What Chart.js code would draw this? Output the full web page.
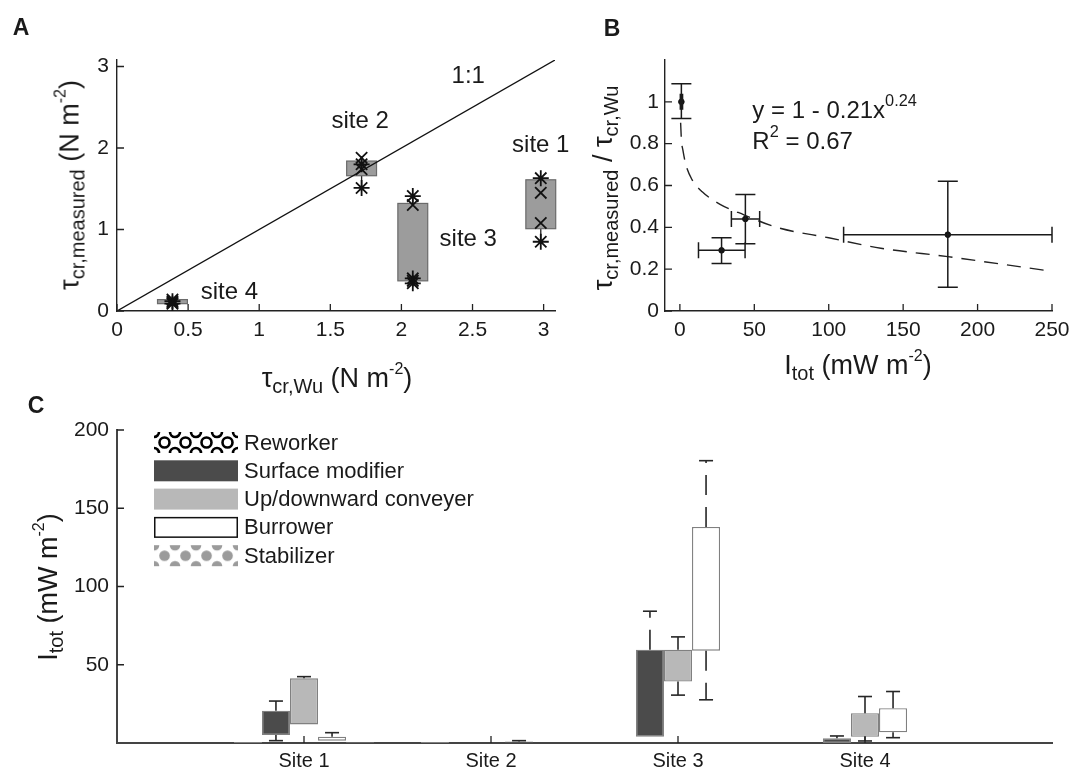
<!DOCTYPE html>
<html lang="en">
<head>
<meta charset="utf-8">
<title>Critical shear stress and bioturbation</title>
<script src="https://cdn.jsdelivr.net/npm/chart.js@4.4.1/dist/chart.umd.min.js"></script>
<style>
  html, body { margin: 0; padding: 0; background: #fff; }
  #fig { position: relative; width: 1072px; height: 772px; overflow: hidden;
         font-family: "Liberation Sans", Arial, sans-serif; color: #1a1a1a; }
  canvas { position: absolute; }
  .lbl { position: absolute; white-space: nowrap; font-size: 27px; line-height: 1; }
  .lbl sub { font-size: 20px; line-height: 0; vertical-align: -0.32em; }
  .lbl sup { font-size: 16px; line-height: 0; vertical-align: 0.8em; }
  .hz { transform: translate(-50%, -50%); }
  .rot { transform: translate(-50%, -50%) rotate(-90deg); }
  .letter { position: absolute; font-weight: bold; font-size: 23px; transform: translate(-50%, -50%); }
</style>
</head>
<body>
<div id="fig">
  <canvas id="chartA" width="600" height="400" style="left:0;top:0"></canvas>
  <canvas id="chartB" width="492" height="400" style="left:580px;top:0"></canvas>
  <canvas id="chartC" width="1072" height="372" style="left:0;top:400px"></canvas>

  <div class="letter" style="left:21px;top:27px">A</div>
  <div class="letter" style="left:612px;top:28px">B</div>
  <div class="letter" style="left:36px;top:405px">C</div>

  <div class="lbl hz" style="left:337px;top:378px">τ<sub>cr,Wu</sub> (N m<sup>-2</sup>)</div>
  <div class="lbl rot" style="left:70px;top:185px">τ<sub>cr,measured</sub> (N m<sup>-2</sup>)</div>
  <div class="lbl hz" style="left:858px;top:365px">I<sub>tot</sub> (mW m<sup>-2</sup>)</div>
  <div class="lbl rot" style="left:603px;top:188px">τ<sub>cr,measured</sub> / τ<sub>cr,Wu</sub></div>
  <div class="lbl rot" style="left:48px;top:587px">I<sub>tot</sub> (mW m<sup>-2</sup>)</div>
</div>

<script>
// ---------------- Panel A : measured vs Wu critical shear stress ----------------
const aXTicks = [0, 0.5, 1, 1.5, 2, 2.5, 3];
const aYTicks = [0, 1, 2, 3];
// sites 1..4
const aSiteX = [2.98, 1.72, 2.08, 0.39];
const aQ1 = [1.01, 1.66, 0.37, 0.09];
const aQ3 = [1.61, 1.84, 1.32, 0.14];
const aWhiskLo = [0.85, 1.51, 0.34, 0.09];
const aWhiskHi = [1.63, 1.88, 1.41, 0.14];
// individual measurements (site index, value, marker)
const aPtSite = [0, 0, 0, 0, 1, 1, 1, 1, 2, 2, 2, 2, 2, 3, 3, 3, 3];
const aPtY = [1.63, 1.45, 1.08, 0.85, 1.88, 1.80, 1.74, 1.51, 1.41, 1.30, 0.40, 0.37, 0.34, 0.14, 0.12, 0.10, 0.09];
const aPtMark = ['*', 'x', 'x', '*', 'x', '*', 'x', '*', '*', 'x', '*', 'x', '*', 'x', '*', 'x', '*'];
const oneToOne = [0, 3.08];
const aNoteText = ['1:1', 'site 1', 'site 2', 'site 3', 'site 4'];
const aNoteX = [2.47, 2.98, 1.71, 2.47, 0.79];
const aNoteY = [2.88, 2.03, 2.33, 0.88, 0.23];

// ---------------- Panel B : ratio vs Itot ----------------
const bXTicks = [0, 50, 100, 150, 200, 250];
const bYTicks = [0, 0.2, 0.4, 0.6, 0.8, 1];
const bX = [1, 28, 44, 180];
const bY = [1.0, 0.29, 0.44, 0.365];
const bXLo = [0.3, 12.5, 34.6, 110];
const bXHi = [1.8, 43.8, 53.6, 250];
const bYLo = [0.92, 0.227, 0.322, 0.113];
const bYHi = [1.087, 0.35, 0.557, 0.62];
// fitted curve
const fitX = [0.5, 1, 2, 4, 8, 15, 27, 43, 65, 100, 135, 180, 215, 250];
const fitY = [0.9, 0.82, 0.77, 0.70, 0.63, 0.57, 0.51, 0.46, 0.40, 0.35, 0.30, 0.26, 0.225, 0.19];
const bNoteX = [48.7, 48.7];
const bNoteY = [0.955, 0.806];

// ---------------- Panel C : Itot per functional group ----------------
const cSites = ['', 'Site 1', 'Site 2', 'Site 3', 'Site 4', ''];
const cYTicks = [50, 100, 150, 200];
const cGroups = ['Reworker', 'Surface modifier', 'Up/downward conveyer', 'Burrower', 'Stabilizer'];
const reworkerLo = [0, 0, null, null];
const reworkerHi = [0.6, 0.6, null, null];
const surfaceLo = [5.1, null, 4.0, 0];
const surfaceHi = [20.6, null, 59.6, 3.0];
const surfaceWLo = [1.5, null, 4.0, 0];
const surfaceWHi = [26.8, null, 84.2, 4.5];
const conveyerLo = [11.9, null, 39.3, 4.0];
const conveyerHi = [41.3, null, 59.6, 19.0];
const conveyerWLo = [11.9, null, 30.6, 1.3];
const conveyerWHi = [42.4, null, 67.8, 29.7];
const burrowerLo = [1.5, 0.3, 59.0, 6.9];
const burrowerHi = [4.0, 1.0, 138.0, 22.2];
const burrowerWLo = [1.5, 0.3, 27.6, 3.4];
const burrowerWHi = [6.6, 1.5, 180.4, 32.9];
const stabilizerLo = [0, null, null, null];
const stabilizerHi = [0.5, null, null, null];

const FONT = '"Liberation Sans", Arial, Helvetica, sans-serif';
Chart.defaults.font.family = FONT;
Chart.defaults.color = '#1a1a1a';
Chart.defaults.animation = false;

// MATLAB style ticks pointing into the plot
const innerTicks = {
    id: 'innerTicks',
    afterDraw(chart, args, o) {
        const { ctx, chartArea } = chart;
        const xs = chart.scales.x, ys = chart.scales.y;
        ctx.save();
        ctx.strokeStyle = o.color;
        ctx.lineWidth = o.width;
        ctx.beginPath();
        xs.ticks.forEach((t, i) => {
            if (!t.label) return;
            const px = xs.getPixelForTick(i);
            ctx.moveTo(px, chartArea.bottom);
            ctx.lineTo(px, chartArea.bottom - o.length);
        });
        ys.ticks.forEach((t, i) => {
            const py = ys.getPixelForTick(i);
            ctx.moveTo(chartArea.left, py);
            ctx.lineTo(chartArea.left + o.length, py);
        });
        ctx.stroke();
        ctx.restore();
    }
};

// text inside plots, placed in data coordinates, with optional superscripts
const notes = {
    id: 'notes',
    afterDatasetsDraw(chart, args, o) {
        const { ctx } = chart;
        const x = chart.scales.x, y = chart.scales.y;
        ctx.save();
        ctx.fillStyle = '#1a1a1a';
        ctx.textBaseline = 'middle';
        ctx.textAlign = 'left';
        o.items.forEach(it => {
            const px = x.getPixelForValue(it.x), py = y.getPixelForValue(it.y);
            let w = 0;
            it.parts.forEach(p => {
                ctx.font = (p.sup ? o.size * 0.68 : o.size) + 'px ' + FONT;
                w += ctx.measureText(p.t).width;
            });
            let cx = it.align === 'center' ? px - w / 2 : px;
            it.parts.forEach(p => {
                ctx.font = (p.sup ? o.size * 0.68 : o.size) + 'px ' + FONT;
                ctx.fillText(p.t, cx, p.sup ? py - o.size * 0.42 : py);
                cx += ctx.measureText(p.t).width;
            });
        });
        ctx.restore();
    }
};

// boxes of panel A
const siteBoxes = {
    id: 'siteBoxes',
    beforeDatasetsDraw(chart, args, o) {
        const { ctx } = chart;
        const x = chart.scales.x, y = chart.scales.y;
        ctx.save();
        aSiteX.forEach((sx, i) => {
            const cx = x.getPixelForValue(sx);
            const l = x.getPixelForValue(sx - o.halfW), r = x.getPixelForValue(sx + o.halfW);
            const t = y.getPixelForValue(aQ3[i]), b = y.getPixelForValue(aQ1[i]);
            ctx.strokeStyle = '#222';
            ctx.lineWidth = 1.3;
            ctx.beginPath();
            ctx.moveTo(cx, t); ctx.lineTo(cx, y.getPixelForValue(aWhiskHi[i]));
            ctx.moveTo(cx, b); ctx.lineTo(cx, y.getPixelForValue(aWhiskLo[i]));
            ctx.stroke();
            ctx.fillStyle = '#9c9c9c';
            ctx.fillRect(l, t, r - l, b - t);
            ctx.strokeStyle = '#6a6a6a';
            ctx.lineWidth = 1.2;
            ctx.strokeRect(l, t, r - l, b - t);
        });
        ctx.restore();
    }
};

// error bars of panel B
const errorBars = {
    id: 'errorBars',
    afterDatasetsDraw(chart, args, o) {
        const { ctx } = chart;
        const x = chart.scales.x, y = chart.scales.y;
        ctx.save();
        ctx.strokeStyle = '#1a1a1a';
        ctx.lineWidth = 1.5;
        ctx.beginPath();
        bX.forEach((bx, i) => {
            const px = x.getPixelForValue(bx), py = y.getPixelForValue(bY[i]);
            const lo = y.getPixelForValue(bYLo[i]), hi = y.getPixelForValue(bYHi[i]);
            ctx.moveTo(px, lo); ctx.lineTo(px, hi);
            ctx.moveTo(px - o.cap, lo); ctx.lineTo(px + o.cap, lo);
            ctx.moveTo(px - o.cap, hi); ctx.lineTo(px + o.cap, hi);
            const xl = x.getPixelForValue(bXLo[i]), xh = x.getPixelForValue(bXHi[i]);
            ctx.moveTo(xl, py); ctx.lineTo(xh, py);
            ctx.moveTo(xl, py - o.capH); ctx.lineTo(xl, py + o.capH);
            ctx.moveTo(xh, py - o.capH); ctx.lineTo(xh, py + o.capH);
        });
        ctx.stroke();
        ctx.restore();
    }
};

// dashed whiskers of panel C
const whiskers = {
    id: 'whiskers',
    afterDatasetsDraw(chart, args, o) {
        const { ctx } = chart;
        const y = chart.scales.y;
        ctx.save();
        ctx.strokeStyle = '#262626';
        ctx.lineWidth = 1.6;
        chart.data.datasets.forEach((ds, di) => {
            if (!ds.whiskLo) return;
            const meta = chart.getDatasetMeta(di);
            ds.whiskLo.forEach((wlo, j) => {
                const box = ds.data[j + 1];
                if (!box) return;
                const cx = meta.data[j + 1].x;
                const seg = (from, to) => {
                    if (to == null || Math.abs(to - from) < 1e-9) return;
                    const p0 = y.getPixelForValue(from), p1 = y.getPixelForValue(to);
                    ctx.setLineDash(o.dash);
                    ctx.beginPath(); ctx.moveTo(cx, p0); ctx.lineTo(cx, p1); ctx.stroke();
                    ctx.setLineDash([]);
                    ctx.beginPath(); ctx.moveTo(cx - o.cap, p1); ctx.lineTo(cx + o.cap, p1); ctx.stroke();
                };
                seg(box[1], ds.whiskHi[j]);
                seg(box[0], wlo);
            });
        });
        ctx.restore();
    }
};

// legend of panel C, drawn inside the plot area
const boxLegend = {
    id: 'boxLegend',
    afterDraw(chart, args, o) {
        const { ctx, chartArea } = chart;
        const x0 = chartArea.left + o.dx, y0 = chartArea.top + o.dy;
        chart.data.datasets.forEach((ds, i) => {
            const top = y0 + i * o.rowH;
            ctx.save();
            ctx.translate(x0, top);
            ctx.fillStyle = ds.backgroundColor;
            ctx.fillRect(0, 0, o.boxW, o.boxH);
            if (ds.legendEdge) {
                ctx.strokeStyle = ds.legendEdge;
                ctx.lineWidth = 1.5;
                ctx.strokeRect(0.75, 0.75, o.boxW - 1.5, o.boxH - 1.5);
            }
            ctx.restore();
            ctx.save();
            ctx.fillStyle = '#1a1a1a';
            ctx.font = o.size + 'px ' + FONT;
            ctx.textBaseline = 'middle';
            ctx.textAlign = 'left';
            ctx.fillText(ds.label, x0 + o.boxW + o.gap, top + o.boxH / 2 + 1);
            ctx.restore();
        });
    }
};

function tilePattern(kind) {
    const c = document.createElement('canvas');
    c.width = 21; c.height = 21;
    const g = c.getContext('2d');
    g.fillStyle = '#fff';
    g.fillRect(0, 0, 21, 21);
    const spots = [[10.5, 10.5], [0, 0], [21, 0], [0, 21], [21, 21]];
    spots.forEach(([sx, sy]) => {
        g.beginPath();
        if (kind === 'ring') {
            g.strokeStyle = '#000';
            g.lineWidth = 2.6;
            g.arc(sx, sy, 5, 0, Math.PI * 2);
            g.stroke();
        } else {
            g.fillStyle = '#9b9b9b';
            g.arc(sx, sy, 5.3, 0, Math.PI * 2);
            g.fill();
        }
    });
    return g.createPattern(c, 'repeat');
}

function fixedAxis(size, horizontal) {
    return s => {
        if (horizontal) { s.height = size; s.paddingLeft = 0; s.paddingRight = 0; }
        else { s.width = size; s.paddingTop = 0; s.paddingBottom = 0; }
    };
}

const axisLine = { color: '#222', width: 1.4 };
const noGrid = { display: false, drawTicks: false };
const tickOpts = { length: 7, color: '#222', width: 1.3 };

// ================= Chart A =================
new Chart(document.getElementById('chartA'), {
    type: 'scatter',
    data: {
        datasets: [
            {
                type: 'line',
                data: oneToOne.map(v => ({ x: v, y: v })),
                borderColor: '#111', borderWidth: 1.3, pointRadius: 0
            },
            {
                data: aPtY.map((v, i) => ({ x: aSiteX[aPtSite[i]], y: v })),
                pointStyle: aPtMark.map(m => m === 'x' ? 'crossRot' : 'star'),
                pointRadius: 8, pointBorderColor: '#111', pointBorderWidth: 1.8,
                pointBackgroundColor: 'transparent'
            }
        ]
    },
    options: {
        responsive: false,
        layout: { padding: { left: 77, right: 45, top: 60, bottom: 54 } },
        plugins: {
            legend: { display: false }, tooltip: { enabled: false },
            innerTicks: tickOpts,
            siteBoxes: { halfW: 0.105 },
            notes: { size: 24, items: aNoteText.map((t, i) => ({ x: aNoteX[i], y: aNoteY[i], parts: [{ t }], align: 'center' })) }
        },
        scales: {
            x: {
                type: 'linear', min: 0, max: 3.08,
                grid: noGrid, border: axisLine,
                ticks: { font: { size: 21 }, padding: 7, callback: v => String(v) },
                afterBuildTicks: s => { s.ticks = aXTicks.map(v => ({ value: v })); },
                afterFit: fixedAxis(35, true)
            },
            y: {
                type: 'linear', min: 0, max: 3.08,
                grid: noGrid, border: axisLine,
                ticks: { font: { size: 21 }, padding: 8, callback: v => String(v) },
                afterBuildTicks: s => { s.ticks = aYTicks.map(v => ({ value: v })); },
                afterFit: fixedAxis(40, false)
            }
        }
    },
    plugins: [siteBoxes, innerTicks, notes]
});

// ================= Chart B =================
new Chart(document.getElementById('chartB'), {
    type: 'scatter',
    data: {
        datasets: [
            {
                data: fitX.map((v, i) => ({ x: v, y: fitY[i] })),
                showLine: true, borderColor: '#222', borderWidth: 1.4, borderDash: [14, 9],
                cubicInterpolationMode: 'monotone', pointRadius: 0
            },
            {
                data: bX.map((v, i) => ({ x: v, y: bY[i] })),
                pointRadius: 2.8, pointBackgroundColor: '#111', pointBorderColor: '#111'
            }
        ]
    },
    options: {
        responsive: false,
        layout: { padding: { left: 45, right: 20, top: 60, bottom: 54 } },
        plugins: {
            legend: { display: false }, tooltip: { enabled: false },
            innerTicks: tickOpts,
            errorBars: { cap: 10, capH: 8 },
            notes: {
                size: 24,
                items: [
                    { x: bNoteX[0], y: bNoteY[0], parts: [{ t: 'y = 1 - 0.21x' }, { t: '0.24', sup: true }] },
                    { x: bNoteX[1], y: bNoteY[1], parts: [{ t: 'R' }, { t: '2', sup: true }, { t: ' = 0.67' }] }
                ]
            }
        },
        scales: {
            x: {
                type: 'linear', min: -10, max: 250,
                grid: noGrid, border: axisLine,
                ticks: { font: { size: 21 }, padding: 7, callback: v => String(v) },
                afterBuildTicks: s => { s.ticks = bXTicks.map(v => ({ value: v })); },
                afterFit: fixedAxis(35, true)
            },
            y: {
                type: 'linear', min: 0, max: 1.2,
                grid: noGrid, border: axisLine,
                ticks: { font: { size: 21 }, padding: 6, callback: v => String(v) },
                afterBuildTicks: s => { s.ticks = bYTicks.map(v => ({ value: v })); },
                afterFit: fixedAxis(40, false)
            }
        }
    },
    plugins: [innerTicks, errorBars, notes]
});

// ================= Chart C =================
function floatBars(lo, hi) {
    return [null, ...lo.map((v, i) => v == null ? null : [v, hi[i]]), null];
}
const barBase = { borderWidth: 1.3, borderSkipped: false, borderColor: '#808080' };

new Chart(document.getElementById('chartC'), {
    type: 'bar',
    data: {
        labels: cSites,
        datasets: [
            Object.assign({ label: cGroups[0], data: floatBars(reworkerLo, reworkerHi), backgroundColor: tilePattern('ring') }, barBase),
            Object.assign({ label: cGroups[1], data: floatBars(surfaceLo, surfaceHi), backgroundColor: '#4b4b4b',
                whiskLo: surfaceWLo, whiskHi: surfaceWHi }, barBase),
            Object.assign({ label: cGroups[2], data: floatBars(conveyerLo, conveyerHi), backgroundColor: '#b8b8b8',
                whiskLo: conveyerWLo, whiskHi: conveyerWHi }, barBase),
            Object.assign({ label: cGroups[3], data: floatBars(burrowerLo, burrowerHi), backgroundColor: '#ffffff',
                legendEdge: '#111', whiskLo: burrowerWLo, whiskHi: burrowerWHi }, barBase),
            Object.assign({ label: cGroups[4], data: floatBars(stabilizerLo, stabilizerHi), backgroundColor: tilePattern('dot') }, barBase)
        ]
    },
    options: {
        responsive: false,
        datasets: { bar: { categoryPercentage: 0.75, barPercentage: 1.0 } },
        layout: { padding: { left: 67, right: 20, top: 30, bottom: 0 } },
        plugins: {
            legend: { display: false }, tooltip: { enabled: false },
            innerTicks: tickOpts,
            whiskers: { cap: 7, dash: [20, 12] },
            boxLegend: { dx: 37, dy: 2, rowH: 28.3, boxW: 84, boxH: 21, gap: 6, size: 22 }
        },
        scales: {
            x: {
                type: 'category', offset: false,
                grid: noGrid, border: { color: '#444', width: 2 },
                ticks: { font: { size: 20 }, padding: 6, autoSkip: false, maxRotation: 0 },
                afterFit: fixedAxis(29, true)
            },
            y: {
                type: 'linear', min: 0, max: 200,
                grid: noGrid, border: { color: '#444', width: 2 },
                ticks: { font: { size: 21 }, padding: 8, callback: v => String(v) },
                afterBuildTicks: s => { s.ticks = cYTicks.map(v => ({ value: v })); },
                afterFit: fixedAxis(50, false)
            }
        }
    },
    plugins: [innerTicks, whiskers, boxLegend]
});
</script>
</body>
</html>
